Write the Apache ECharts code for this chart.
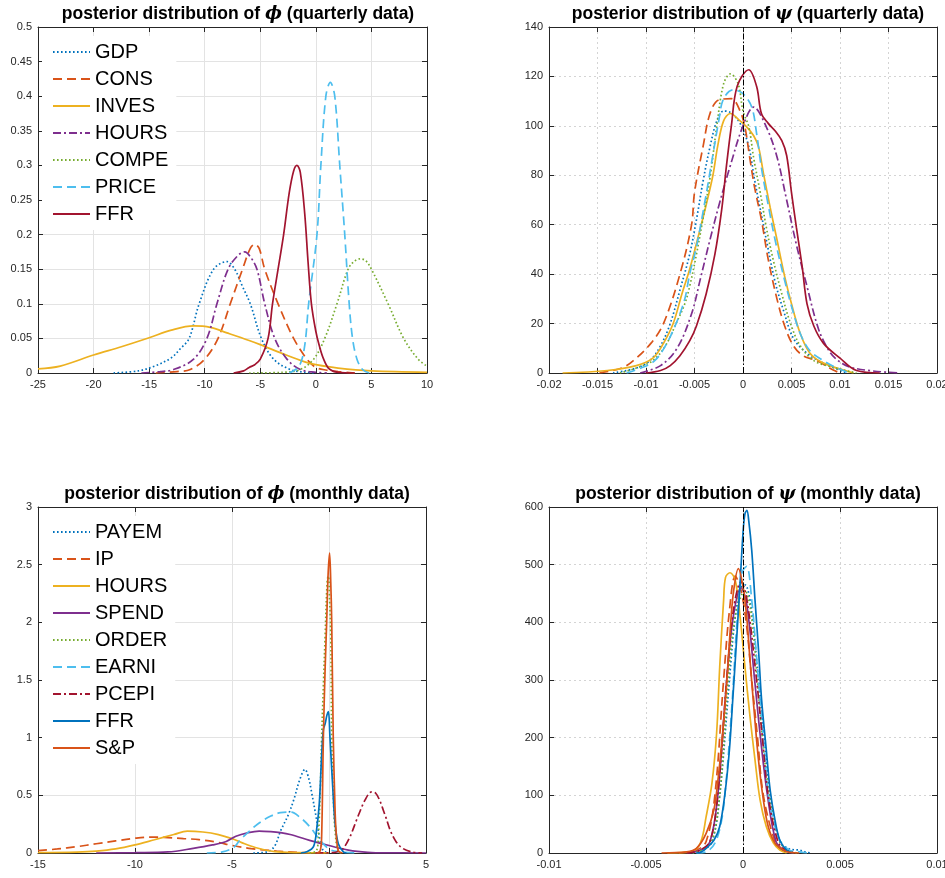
<!DOCTYPE html>
<html>
<head>
<meta charset="utf-8">
<script src="https://cdn.jsdelivr.net/npm/echarts@6/dist/echarts.min.js"></script>
<style>
  html, body { margin: 0; padding: 0; background: #fff; overflow: hidden; }
  #main { width: 945px; height: 878px; }
</style>
</head>
<body>
<div id="main"></div>
<script>
// ---- quarterly data, phi ----
var qPhiGDP = [[-18.2,0],[-16,0.003],[-14.5,0.01],[-13,0.022],[-12.2,0.035],[-11.4,0.05],[-10.5,0.1],[-9.2,0.15],[-8,0.161],[-7.3,0.15],[-6.6,0.125],[-5.9,0.1],[-4.9,0.05],[-3.8,0.02],[-2.3,0.005],[-1,0.001],[0,0]];
var qPhiCONS = [[-14.4,0],[-12.5,0.002],[-11.3,0.005],[-10,0.02],[-8.8,0.05],[-7.7,0.1],[-6.6,0.15],[-5.9,0.18],[-5.5,0.186],[-5.1,0.18],[-4.6,0.15],[-3.4,0.1],[-2,0.05],[-0.8,0.02],[0,0.008],[1,0.004],[2,0.002],[3.5,0]];
var qPhiINVES = [[-25,0.006],[-23,0.01],[-20,0.026],[-17.5,0.038],[-15,0.051],[-13,0.062],[-11,0.068],[-9.5,0.066],[-8,0.058],[-6,0.047],[-5,0.041],[-3,0.028],[-1,0.016],[0,0.012],[2,0.007],[5,0.003],[10,0.001]];
var qPhiHOURS = [[-15.7,0],[-14,0.002],[-12.8,0.005],[-11,0.02],[-9.8,0.05],[-8.9,0.1],[-7.9,0.15],[-7,0.17],[-6.4,0.175],[-5.9,0.168],[-5.3,0.15],[-4.6,0.1],[-3.7,0.05],[-2.6,0.02],[-1.4,0.005],[0,0.001],[1,0]];
var qPhiCOMPE = [[-6,0],[-3,0.001],[-1.4,0.005],[-0.2,0.02],[0.8,0.05],[1.9,0.1],[2.9,0.15],[3.5,0.162],[4,0.165],[4.5,0.162],[5,0.15],[6.5,0.1],[7.9,0.05],[9.2,0.02],[10,0.01]];
var qPhiPRICE = [[-2.4,0],[-1.5,0.01],[-1,0.04],[-0.65,0.1],[0.1,0.2],[0.45,0.3],[0.9,0.4],[1.3,0.42],[1.7,0.4],[2.15,0.3],[2.6,0.2],[3,0.1],[3.3,0.05],[3.7,0.02],[4.2,0.005],[4.8,0]];
var qPhiFFR = [[-7.4,0],[-6.5,0.003],[-6,0.008],[-5.5,0.012],[-5,0.02],[-4.3,0.05],[-3.9,0.1],[-3.4,0.15],[-2.9,0.2],[-2.4,0.26],[-2,0.292],[-1.7,0.3],[-1.4,0.29],[-1,0.23],[-0.7,0.16],[-0.4,0.1],[0,0.06],[0.3,0.04],[0.7,0.02],[1.2,0.006],[2,0.001],[3.5,0]];

// ---- quarterly data, psi ----
var qPsiGDP = [[-0.0134,0],[-0.011,2],[-0.0096,5],[-0.0085,11],[-0.0075,20],[-0.0064,35],[-0.0055,48],[-0.0048,62],[-0.0041,78],[-0.0034,91.5],[-0.0027,102],[-0.002,106],[-0.0013,105.4],[-0.0003,101],[0.0006,91.5],[0.0012,78],[0.0018,66],[0.0024,54],[0.0033,37],[0.0042,25],[0.0052,14],[0.0066,8],[0.0083,4],[0.0107,0]];
var qPsiCONS = [[-0.0148,0],[-0.0125,2],[-0.0113,5],[-0.0095,12],[-0.0082,20],[-0.0065,40],[-0.0053,60],[-0.005,73],[-0.0041,92],[-0.0034,105],[-0.0025,110.5],[-0.0012,111],[-0.0003,106],[0.0002,99.5],[0.0007,87],[0.0012,75],[0.0019,62],[0.0026,46],[0.0035,30],[0.0043,19],[0.0052,11],[0.0062,7],[0.0076,5],[0.0093,1.2],[0.01,0]];
var qPsiINVES = [[-0.0186,0],[-0.014,1],[-0.011,3],[-0.0093,6],[-0.0082,12],[-0.0072,20],[-0.0063,32],[-0.0055,42],[-0.0045,57],[-0.0038,68],[-0.0031,80],[-0.0026,92],[-0.002,102],[-0.0013,105],[-0.0003,102],[0.0004,99.5],[0.0011,96],[0.0016,91.5],[0.0021,81],[0.0028,67],[0.0035,54],[0.0043,39],[0.005,28],[0.0059,16],[0.0069,8],[0.0083,4],[0.0114,0]];
var qPsiHOURS = [[-0.0106,0],[-0.0085,3],[-0.0068,10],[-0.0053,24],[-0.0044,38],[-0.0034,54],[-0.0024,69],[-0.0013,84],[0,100],[0.0011,107.6],[0.0024,99.6],[0.0035,87.5],[0.0045,70],[0.0055,52],[0.0066,35],[0.0076,20],[0.0083,13],[0.0095,6],[0.0114,2],[0.0162,0]];
var qPsiCOMPE = [[-0.0127,0],[-0.011,2],[-0.0093,5],[-0.008,11],[-0.0069,20],[-0.006,28],[-0.0055,35],[-0.0048,48],[-0.0041,63],[-0.0034,79],[-0.0027,100],[-0.002,117],[-0.0013,121],[-0.0005,117],[0,106],[0.0006,99.6],[0.0011,87],[0.0018,72.5],[0.0024,59],[0.0031,46],[0.004,32],[0.0049,20],[0.0059,11],[0.0073,5],[0.009,2.6],[0.0117,0]];
var qPsiPRICE = [[-0.012,0],[-0.0105,2],[-0.0091,5],[-0.008,11],[-0.0069,20],[-0.006,30],[-0.0055,40],[-0.0048,51],[-0.0039,70],[-0.0032,86],[-0.0025,102],[-0.002,111],[-0.001,114.6],[0,113],[0.0009,107.6],[0.0014,97],[0.0019,83],[0.0026,68],[0.0033,54],[0.0042,39],[0.005,27],[0.0059,16],[0.0069,9],[0.0083,5],[0.0097,2],[0.011,0]];
var qPsiFFR = [[-0.01,0],[-0.0085,1],[-0.0075,3],[-0.0065,7],[-0.0055,13],[-0.0048,19],[-0.0038,32],[-0.0029,48],[-0.0022,66],[-0.0017,84],[-0.0012,100],[-0.0006,116],[0.0006,122.7],[0.0014,116],[0.0019,105],[0.0026,101],[0.0033,98],[0.004,94],[0.0045,88],[0.005,73],[0.0055,59],[0.0061,43],[0.0066,28],[0.0073,19],[0.0083,12],[0.01,6],[0.0117,1],[0.0141,0]];

// ---- monthly data, phi ----
var mPhiPAYEM = [[-3.9,0],[-3.2,0.01],[-2.8,0.06],[-2.5,0.19],[-2.1,0.33],[-1.8,0.47],[-1.5,0.64],[-1.24,0.725],[-1.05,0.65],[-0.89,0.52],[-0.64,0.29],[-0.46,0.11],[-0.29,0.02],[0,0]];
var mPhiIP = [[-15,0.02],[-14,0.035],[-13,0.055],[-12,0.08],[-11,0.105],[-10,0.128],[-9.2,0.138],[-8.5,0.136],[-7.5,0.125],[-6.7,0.116],[-5.8,0.095],[-5,0.066],[-4,0.038],[-2.7,0.017],[-1.5,0.004],[0,0]];
var mPhiHOURS = [[-15,0.003],[-13,0.008],[-12,0.016],[-11,0.035],[-10,0.07],[-9,0.115],[-8,0.16],[-7.3,0.19],[-6.5,0.182],[-5.7,0.16],[-5,0.125],[-4.5,0.09],[-3.8,0.048],[-2.8,0.012],[-1.5,0.003],[0,0]];
var mPhiSPEND = [[-12,0],[-10,0.003],[-8.3,0.009],[-7,0.04],[-6,0.07],[-5.3,0.1],[-4.8,0.145],[-4.2,0.175],[-3.6,0.19],[-3,0.185],[-2.5,0.176],[-2,0.16],[-1,0.11],[0,0.065],[1,0.025],[2,0.006],[3,0.001],[5,0]];
var mPhiORDER = [[-1,0],[-0.65,0.02],[-0.55,0.14],[-0.45,0.55],[-0.38,1.0],[-0.28,1.5],[-0.2,1.88],[-0.09,2.37],[-0.03,2.4],[0.03,2.2],[0.09,1.88],[0.14,1.0],[0.22,0.5],[0.31,0.2],[0.48,0.01],[0.7,0]];
var mPhiEARNI = [[-6.3,0],[-5.5,0.01],[-4.9,0.05],[-4.6,0.11],[-4.1,0.19],[-3.6,0.26],[-3,0.32],[-2.5,0.35],[-1.96,0.355],[-1.5,0.31],[-1,0.23],[-0.46,0.11],[0.05,0.03],[0.6,0.01],[1.4,0]];
var mPhiPCEPI = [[-0.7,0],[0.2,0.003],[0.5,0.015],[0.74,0.04],[1.08,0.14],[1.43,0.29],[1.86,0.46],[2.2,0.53],[2.4,0.52],[2.63,0.45],[2.8,0.37],[2.95,0.3],[3.15,0.2],[3.45,0.1],[3.8,0.04],[4.3,0.008],[4.8,0]];
var mPhiFFR = [[-1.45,0],[-1.15,0.01],[-0.8,0.055],[-0.64,0.2],[-0.5,0.43],[-0.38,0.84],[-0.29,1.07],[-0.2,1.12],[-0.1,1.2],[-0.03,1.225],[0.05,1.0],[0.19,0.58],[0.31,0.26],[0.48,0.08],[0.74,0.01],[0.9,0]];
var mPhiSP = [[-0.6,0],[-0.45,0.02],[-0.38,0.14],[-0.29,1.0],[-0.2,1.6],[-0.12,2.0],[-0.05,2.4],[0.03,2.6],[0.09,2.35],[0.14,2.0],[0.22,1.0],[0.3,0.45],[0.36,0.2],[0.48,0.02],[0.7,0]];

// ---- monthly data, psi ----
var mPsiPAYEM = [[-0.0026,0],[-0.0022,2],[-0.0016,20],[-0.0012,100],[-0.0007,300],[-0.0004,410],[-0.0001,460],[0.0001,465],[0.0004,430],[0.0008,300],[0.0011,200],[0.0014,100],[0.0019,20],[0.0024,7],[0.0029,5],[0.0032,2],[0.0035,0]];
var mPsiIP = [[-0.0033,0],[-0.0024,5],[-0.0019,20],[-0.00145,100],[-0.001,300],[-0.0007,420],[-0.0004,480],[-0.0001,455],[0.0002,390],[0.00045,300],[0.00075,200],[0.00105,100],[0.00165,20],[0.002,5],[0.0024,0]];
var mPsiHOURS = [[-0.0039,0],[-0.0027,2],[-0.0022,17],[-0.0019,63],[-0.0016,121],[-0.00136,208],[-0.0012,323],[-0.001,438],[-0.0009,478],[-0.00067,486],[-0.0004,473],[-0.00015,410],[0.0001,323],[0.00036,237],[0.00062,161],[0.00088,92],[0.0012,46],[0.00157,17],[0.0019,5],[0.00225,0]];
var mPsiSPEND = [[-0.0029,0],[-0.0022,5],[-0.0017,20],[-0.0013,100],[-0.00084,300],[-0.0005,410],[-0.0001,460],[0.0002,430],[0.0006,300],[0.0009,200],[0.00126,100],[0.0017,20],[0.0021,5],[0.0026,0]];
var mPsiORDER = [[-0.0026,0],[-0.0021,5],[-0.0016,20],[-0.0012,100],[-0.00076,300],[-0.0004,410],[0.0001,455],[0.0004,420],[0.00074,300],[0.001,200],[0.00136,100],[0.0019,20],[0.0023,5],[0.0028,0]];
var mPsiEARNI = [[-0.0024,0],[-0.0019,2],[-0.00145,17],[-0.0011,57],[-0.00088,121],[-0.00067,208],[-0.0005,294],[-0.00033,392],[-0.00015,462],[0,490],[0.00019,497],[0.00045,439],[0.00067,352],[0.00088,265],[0.0011,179],[0.0013,103],[0.00157,57],[0.0019,22],[0.0024,5],[0.0029,2],[0.0033,0]];
var mPsiPCEPI = [[-0.0029,0],[-0.0022,5],[-0.0017,20],[-0.0013,100],[-0.00084,300],[-0.0005,420],[-0.0001,470],[0.0002,440],[0.0007,300],[0.001,200],[0.0013,100],[0.0018,20],[0.0022,5],[0.0027,0]];
var mPsiFFR = [[-0.0024,0],[-0.0022,1],[-0.0019,8],[-0.0015,22],[-0.0012,46],[-0.00093,103],[-0.0007,179],[-0.00053,265],[-0.00033,370],[-0.00015,468],[0,555],[0.0001,588],[0.0002,594],[0.0003,575],[0.00045,525],[0.00062,438],[0.0008,352],[0.00096,265],[0.0012,179],[0.0014,109],[0.00165,57],[0.0019,22],[0.00225,5],[0.0026,0]];
var mPsiSP = [[-0.0042,0],[-0.0029,2],[-0.0024,8],[-0.0019,34],[-0.0015,75],[-0.00127,133],[-0.00105,208],[-0.00084,294],[-0.00067,381],[-0.0005,450],[-0.00024,493],[0,462],[0.00019,410],[0.00036,335],[0.00057,248],[0.0008,161],[0.00105,92],[0.0013,46],[0.00165,17],[0.0021,5],[0.0024,1],[0.0029,0]];

var qNames = ['GDP', 'CONS', 'INVES', 'HOURS', 'COMPE', 'PRICE', 'FFR'];
var mNames = ['PAYEM', 'IP', 'HOURS', 'SPEND', 'ORDER', 'EARNI', 'PCEPI', 'FFR', 'S&P'];

// matlab default colours
var BLUE = '#0072BD', ORANGE = '#D95319', YELLOW = '#EDB120', PURPLE = '#7E2F8E',
    GREEN = '#77AC30', CYAN = '#4DBEEE', DARKRED = '#A2142F';
var DOT = [1.6, 2.4], DASH = [9, 5], DASHDOT = [8, 3, 2, 3];

var qStyles = [[BLUE, DOT], [ORANGE, DASH], [YELLOW, 'solid'], [PURPLE, DASHDOT],
               [GREEN, DOT], [CYAN, DASH], [DARKRED, 'solid']];
var mStyles = [[BLUE, DOT], [ORANGE, DASH], [YELLOW, 'solid'], [PURPLE, 'solid'],
               [GREEN, DOT], [CYAN, DASH], [DARKRED, DASHDOT], [BLUE, 'solid'], [ORANGE, 'solid']];

var qPhiData = [qPhiGDP, qPhiCONS, qPhiINVES, qPhiHOURS, qPhiCOMPE, qPhiPRICE, qPhiFFR];
var qPsiData = [qPsiGDP, qPsiCONS, qPsiINVES, qPsiHOURS, qPsiCOMPE, qPsiPRICE, qPsiFFR];
var mPhiData = [mPhiPAYEM, mPhiIP, mPhiHOURS, mPhiSPEND, mPhiORDER, mPhiEARNI, mPhiPCEPI, mPhiFFR, mPhiSP];
var mPsiData = [mPsiPAYEM, mPsiIP, mPsiHOURS, mPsiSPEND, mPsiORDER, mPsiEARNI, mPsiPCEPI, mPsiFFR, mPsiSP];

var chart = echarts.init(document.getElementById('main'), null, { renderer: 'canvas', width: 945, height: 878 });

var AX = '#262626';
var FONT = '"Liberation Sans", Arial, sans-serif';
// outerBoundsMode none: let the edge tick labels overhang like matlab does
var grids = [
  { left: 38, top: 27, width: 389, height: 346, outerBoundsMode: 'none' },
  { left: 549, top: 27, width: 388, height: 346, outerBoundsMode: 'none' },
  { left: 38, top: 507, width: 388, height: 346, outerBoundsMode: 'none' },
  { left: 549, top: 507, width: 388, height: 346, outerBoundsMode: 'none' }
];
// [xmin, xmax, xint, ymin, ymax, yint, gridline type]
var ranges = [
  [-25, 10, 5, 0, 0.5, 0.05, 'solid'],
  [-0.02, 0.02, 0.005, 0, 140, 20, [2, 3]],
  [-15, 5, 5, 0, 3, 0.5, 'solid'],
  [-0.01, 0.01, 0.005, 0, 600, 100, [2, 3]]
];

var xAxes = [], yAxes = [];
ranges.forEach(function (r, i) {
  var gridColor = r[6] === 'solid' ? '#e3e3e3' : '#d4d4d4';
  var base = {
    type: 'value', gridIndex: i,
    axisLine: { show: true, onZero: false, lineStyle: { color: AX, width: 1 } },
    axisTick: { show: true, inside: true, length: 5, lineStyle: { color: AX } },
    axisLabel: { color: AX, fontSize: 11, fontFamily: FONT, margin: 6 }
  };
  xAxes.push(Object.assign({}, base, {
    min: r[0], max: r[1], interval: r[2], position: 'bottom',
    splitLine: { show: true, lineStyle: { color: gridColor, type: r[6] } }
  }));
  xAxes.push(Object.assign({}, base, {
    min: r[0], max: r[1], interval: r[2], position: 'top',
    axisLabel: { show: false }, splitLine: { show: false }
  }));
  yAxes.push(Object.assign({}, base, {
    min: r[3], max: r[4], interval: r[5], position: 'left',
    splitLine: { show: true, lineStyle: { color: gridColor, type: r[6] } }
  }));
  yAxes.push(Object.assign({}, base, {
    min: r[3], max: r[4], interval: r[5], position: 'right',
    axisLabel: { show: false }, splitLine: { show: false }
  }));
});

var series = [];
function addPanel(panel, tag, names, styles, datas, zeroLine) {
  names.forEach(function (n, k) {
    var s = {
      name: tag + '|' + n,
      type: 'line',
      xAxisIndex: panel * 2,
      yAxisIndex: panel * 2,
      data: datas[k],
      symbol: 'none',
      smooth: 0.35,
      clip: true,
      color: styles[k][0],
      lineStyle: { color: styles[k][0], width: 1.7, type: styles[k][1] }
    };
    if (zeroLine && k === 0) {
      s.markLine = {
        silent: true, symbol: 'none', animation: false,
        label: { show: false },
        lineStyle: { color: '#000', width: 1, type: [6, 2, 1.5, 2] },
        data: [{ xAxis: 0 }]
      };
    }
    series.push(s);
  });
}
addPanel(0, 'q1', qNames, qStyles, qPhiData, false);
addPanel(1, 'q2', qNames, qStyles, qPsiData, true);
addPanel(2, 'm1', mNames, mStyles, mPhiData, false);
addPanel(3, 'm2', mNames, mStyles, mPsiData, true);

function legendFor(tag, names, top) {
  return {
    orient: 'vertical', left: 42, top: top,
    selectedMode: false,
    backgroundColor: '#fff',
    padding: [6, 8, 6, 10],
    itemWidth: 37, itemHeight: 14, itemGap: 7,
    // hide the marker circle, keep only the line sample
    itemStyle: { color: 'rgba(0,0,0,0)', borderWidth: 0, borderColor: 'rgba(0,0,0,0)' },
    textStyle: { fontSize: 20, lineHeight: 20, color: '#000', fontFamily: FONT },
    formatter: function (name) { return name.split('|')[1]; },
    data: names.map(function (n) { return tag + '|' + n; })
  };
}

function titleFor(cx, top, sym, kind) {
  return {
    left: cx, top: top, textAlign: 'center',
    text: '{a|posterior distribution of }{b|' + sym + '}{a| (' + kind + ' data)}',
    textStyle: {
      rich: {
        a: { fontSize: 17.5, fontWeight: 'bold', fontFamily: FONT, color: '#000' },
        b: { fontSize: 18, fontStyle: 'italic', fontFamily: '"DejaVu Serif", "Liberation Serif", serif', color: '#000' }
      }
    }
  };
}

chart.setOption({
  animation: false,
  backgroundColor: '#fff',
  title: [
    titleFor(233, 0, 'ϕ', 'quarterly'),
    titleFor(743, 0, 'ψ', 'quarterly'),
    titleFor(232, 480, 'ϕ', 'monthly'),
    titleFor(743, 480, 'ψ', 'monthly')
  ],
  legend: [legendFor('q1', qNames, 36), legendFor('m1', mNames, 516)],
  grid: grids,
  xAxis: xAxes,
  yAxis: yAxes,
  series: series
});
</script>
</body>
</html>
